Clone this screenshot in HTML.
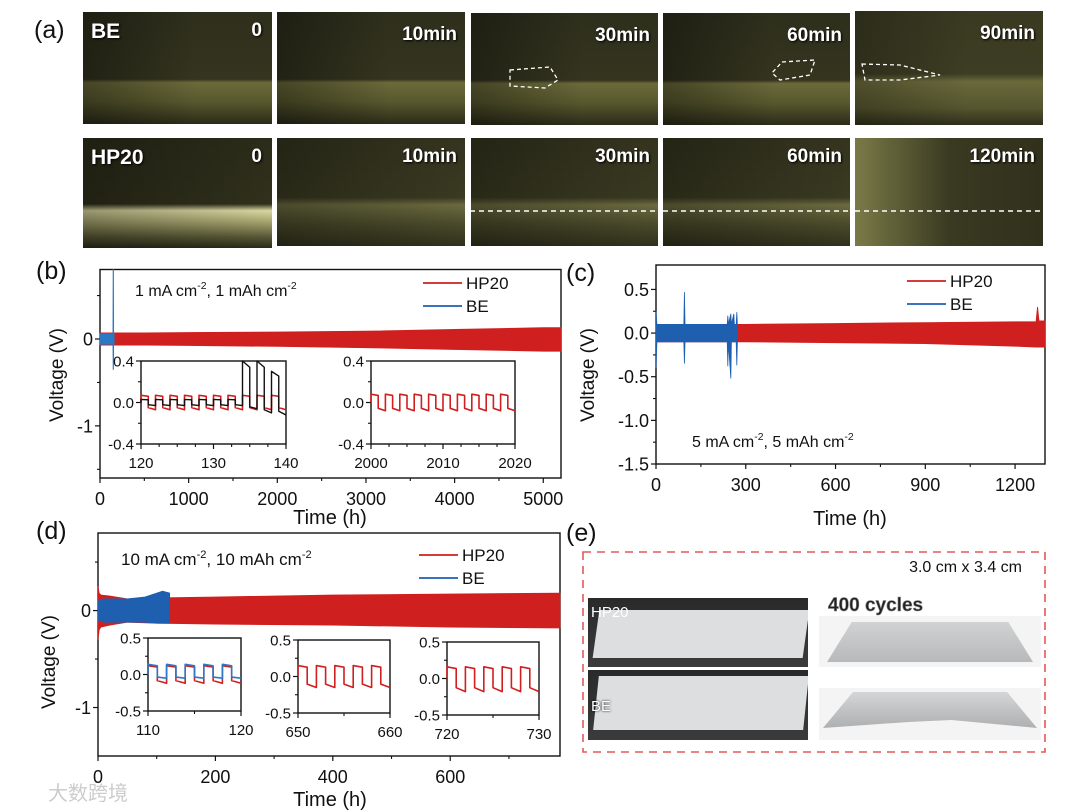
<!DOCTYPE html>
<html><head><meta charset="utf-8"><style>
html,body{margin:0;padding:0;background:#fff;}
#root{position:relative;width:1080px;height:810px;overflow:hidden;font-family:"Liberation Sans",sans-serif;}
.ph{position:absolute;overflow:hidden;}
.ma{background:linear-gradient(90deg,rgba(0,0,0,.35),rgba(0,0,0,0) 60%),linear-gradient(180deg,#2e2f1c 0%,#34341f 60%,#6b6a3a 63%,#58582e 80%,#2b2b19 100%);}
.ma2{background:linear-gradient(90deg,rgba(0,0,0,.25),rgba(0,0,0,0) 60%),linear-gradient(180deg,#3a3a22 0%,#3d3d24 55%,#6a693b 62%,#55552f 85%,#2f2f1b 100%);}
.mb{background:linear-gradient(90deg,rgba(0,0,0,.3),rgba(0,0,0,0)),linear-gradient(180deg,#2c2c1a 0%,#30301c 60%,#d9d7a0 66%,#9c9a66 78%,#585836 90%,#2a2a18 100%);}
.mc{background:linear-gradient(90deg,rgba(0,0,0,.3),rgba(0,0,0,0)),linear-gradient(180deg,#34341f 0%,#3a3a22 55%,#6b6a3f 62%,#4a4a2b 80%,#30301c 100%);}
.ml{position:absolute;color:#fff;font-weight:bold;font-size:19px;text-shadow:1px 1px 2px #000;}
.pe{background:linear-gradient(180deg,#2a2a2a,#3b3b3b);}
.pw{background:#f4f4f4;}
</style></head><body>
<div id="root">
<div class="ph ma" style="left:83px;top:12px;width:189px;height:112px"><span class="ml" style="left:8px;top:8px;font-size:21px">BE</span><span class="ml" style="right:10px;top:8px">0</span></div>
<div class="ph ma" style="left:277px;top:12px;width:188px;height:112px"><span class="ml" style="right:8px;top:12px">10min</span></div>
<div class="ph ma" style="left:471px;top:13px;width:187px;height:112px"><span class="ml" style="right:8px;top:12px">30min</span></div>
<div class="ph ma" style="left:663px;top:13px;width:187px;height:112px"><span class="ml" style="right:8px;top:12px">60min</span></div>
<div class="ph ma2" style="left:855px;top:11px;width:188px;height:114px"><span class="ml" style="right:8px;top:12px">90min</span></div>
<div class="ph mb" style="left:83px;top:138px;width:189px;height:110px"><span class="ml" style="left:8px;top:8px;font-size:21px">HP20</span><span class="ml" style="right:10px;top:8px">0</span></div>
<div class="ph mc" style="left:277px;top:138px;width:188px;height:108px"><span class="ml" style="right:8px;top:8px">10min</span></div>
<div class="ph mc" style="left:471px;top:138px;width:187px;height:108px"><span class="ml" style="right:8px;top:8px">30min</span></div>
<div class="ph mc" style="left:663px;top:138px;width:187px;height:108px"><span class="ml" style="right:8px;top:8px">60min</span></div>
<div class="ph ma2" style="left:855px;top:138px;width:188px;height:108px;background:linear-gradient(90deg,#7a7a48,#3a3a22 50%,#30301c)"><span class="ml" style="right:8px;top:8px">120min</span></div>
<div class="ph pe" style="left:588px;top:598px;width:220px;height:69px"><div style="position:absolute;left:8px;top:12px;width:210px;height:48px;background:#dcdedf;transform:skewX(-8deg)"></div><span style="position:absolute;left:3px;top:6px;color:#fff;font-size:15px">HP20</span></div>
<div class="ph pe" style="left:588px;top:670px;width:220px;height:70px"><div style="position:absolute;left:8px;top:6px;width:210px;height:54px;background:#dcdedf;transform:skewX(-6deg)"></div><span style="position:absolute;left:3px;top:28px;color:#fff;font-size:15px;text-shadow:0 0 2px #000">BE</span></div>
<div class="ph pw" style="left:819px;top:616px;width:222px;height:51px"><div style="position:absolute;left:8px;top:6px;width:206px;height:40px;background:linear-gradient(180deg,#d0d2d3,#b7b9ba);clip-path:polygon(12% 0,88% 0,100% 100%,0 100%)"></div></div>
<div class="ph pw" style="left:819px;top:688px;width:222px;height:52px"><div style="position:absolute;left:4px;top:4px;width:214px;height:40px;background:linear-gradient(180deg,#d4d6d7,#a9abad);clip-path:polygon(14% 0,86% 0,100% 90%,60% 70%,40% 75%,0 90%)"></div></div>
<svg id="svg" width="1080" height="810" style="position:absolute;left:0;top:0"></svg>
</div>
<script>
const bHpT=[0,500,1000,2000,3000,4000,5000,5200];
const bHpHi=[0.07,0.07,0.075,0.08,0.09,0.11,0.13,0.13];
const bHpLo=[-0.07,-0.07,-0.075,-0.085,-0.1,-0.12,-0.14,-0.14];
const bBeT=[0,60,120,146,148,152,154,160];
const bBeHi=[0.06,0.06,0.06,0.06,0.8,0.8,0.06,0.06];
const bBeLo=[-0.06,-0.06,-0.06,-0.06,-0.35,-0.35,-0.06,-0.06];
const b1Starts=[120,122,124,126,128,130,132,134,136,138];
const b1HpHi=[0.07,0.07,0.07,0.07,0.07,0.07,0.07,0.07,0.07,0.07];
const b1HpLo=[-0.07,-0.07,-0.07,-0.07,-0.07,-0.07,-0.07,-0.07,-0.07,-0.07];
const b1BeHi=[0.03,0.03,0.03,0.03,0.03,0.03,0.03,0.4,0.4,0.3];
const b1BeLo=[-0.03,-0.03,-0.03,-0.03,-0.03,-0.03,-0.03,-0.06,-0.1,-0.12];
const b2Starts=[2000,2002,2004,2006,2008,2010,2012,2014,2016,2018];
const b2Hi=[0.08,0.08,0.08,0.08,0.08,0.08,0.08,0.08,0.08,0.08];
const b2Lo=[-0.08,-0.08,-0.08,-0.08,-0.08,-0.08,-0.08,-0.08,-0.08,-0.08];
const cHpT=[0,300,600,900,1200,1270,1275,1280,1300];
const cHpHi=[0.1,0.1,0.11,0.12,0.13,0.13,0.3,0.14,0.14];
const cHpLo=[-0.1,-0.1,-0.11,-0.12,-0.15,-0.16,-0.16,-0.16,-0.16];
const cBeT=[0,3,20,93,95,97,150,238,240,242,250,252,260,262,268,270,272];
const cBeHi=[0.25,0.1,0.1,0.1,0.47,0.1,0.1,0.1,0.2,0.1,0.22,0.1,0.22,0.1,0.1,0.24,0.1];
const cBeLo=[-0.4,-0.1,-0.1,-0.1,-0.35,-0.1,-0.1,-0.1,-0.38,-0.1,-0.52,-0.1,-0.1,-0.1,-0.1,-0.37,-0.1];
const dHpT=[0,2,5,20,50,100,200,400,600,787];
const dHpHi=[0.25,0.18,0.16,0.15,0.12,0.13,0.14,0.16,0.17,0.18];
const dHpLo=[-0.3,-0.2,-0.17,-0.15,-0.12,-0.13,-0.14,-0.15,-0.17,-0.18];
const dBeT=[0,10,50,80,100,110,122];
const dBeHi=[0.1,0.12,0.12,0.14,0.18,0.2,0.18];
const dBeLo=[-0.1,-0.12,-0.12,-0.12,-0.13,-0.13,-0.13];
const d1Starts=[110,112,114,116,118];
const d1HpHi=[0.12,0.12,0.12,0.12,0.12];
const d1HpLo=[-0.12,-0.12,-0.12,-0.12,-0.12];
const d1BeHi=[0.14,0.14,0.14,0.14,0.14];
const d1BeLo=[-0.05,-0.05,-0.05,-0.05,-0.05];
const d2Starts=[650,652,654,656,658];
const d2Hi=[0.15,0.15,0.15,0.15,0.15];
const d2Lo=[-0.15,-0.15,-0.15,-0.15,-0.15];
const d3Starts=[720,722,724,726,728];
const d3Hi=[0.16,0.16,0.16,0.16,0.16];
const d3Lo=[-0.18,-0.18,-0.18,-0.18,-0.18];
const RED='#d01f1f', BLUE='#1f5fb0', BLUE2='#2b78c5';
const svg=document.getElementById('svg');
const NS='http://www.w3.org/2000/svg';
function mk(tag,at,p){const e=document.createElementNS(NS,tag);for(const k in at)e.setAttribute(k,at[k]);(p||svg).appendChild(e);return e;}
function lin(d0,d1,r0,r1){return v=>r0+(v-d0)*(r1-r0)/(d1-d0);}
function txt(x,y,s,size,anchor,name,extra){const t=mk('text',Object.assign({x:x,y:y,'font-size':size,'text-anchor':anchor||'middle','font-family':'Liberation Sans, sans-serif',fill:'#111'},extra||{}));t.textContent=s;


return t;}
function axes(sx,sy,x0,x1,y0,y1,xt,xminor,yt,ylab,yminor,fs,name){
 const r=mk('rect',{x:sx(x0),y:sy(y1),width:sx(x1)-sx(x0),height:sy(y0)-sy(y1),fill:'#fff',stroke:'#111','stroke-width':1.4});
 
 
 const by=sy(y0), lx=sx(x0);
 xt.forEach(v=>{const l=mk('line',{x1:sx(v),x2:sx(v),y1:by,y2:by+5,stroke:'#111','stroke-width':1.2});
  
  
  txt(sx(v),by+fs+9,String(v),fs,'middle',name+'-x-tick-label');});
 xminor.forEach(v=>{const l=mk('line',{x1:sx(v),x2:sx(v),y1:by,y2:by+3,stroke:'#111','stroke-width':1.1});
  
  });
 yt.forEach((v,i)=>{const l=mk('line',{x1:lx-5,x2:lx,y1:sy(v),y2:sy(v),stroke:'#111','stroke-width':1.2});
  
  
  txt(lx-7,sy(v)+fs*0.36,ylab[i],fs,'end',name+'-y-tick-label');});
 yminor.forEach(v=>{const l=mk('line',{x1:lx-3,x2:lx,y1:sy(v),y2:sy(v),stroke:'#111','stroke-width':1.1});
  
  });
}
function band(sx,sy,T,H,L,color,name){
 let d='M'+T.map((t,i)=>sx(t)+','+sy(H[i])).join('L');
 for(let i=T.length-1;i>=0;i--)d+='L'+sx(T[i])+','+sy(L[i]);
 const p=mk('path',{d:d+'Z',fill:color,stroke:color,'stroke-width':0.8});
 
 
}
function square(sx,sy,S,H,L,period,color,name,w){
 let d='';
 S.forEach((t,i)=>{const m=t+period/2,e=t+period;
  d+=(i?'L':'M')+sx(t)+','+sy(0)+'L'+sx(t)+','+sy(H[i])+'L'+sx(m)+','+sy(H[i]*0.85)+'L'+sx(m)+','+sy(L[i]*0.7)+'L'+sx(e)+','+sy(L[i]);});
 const p=mk('path',{d:d,fill:'none',stroke:color,'stroke-width':w||1.6,'stroke-linejoin':'round'});
 
 
}
function legend(x,y,name){
 [[RED,'HP20',0],[BLUE,'BE',23]].forEach(([c,s,o])=>{const l=mk('line',{x1:x,x2:x+39,y1:y+o,y2:y+o,stroke:c,'stroke-width':1.8});
  
  
  txt(x+43,y+o+6,s,17,'start',name+'-'+s.toLowerCase()+'-label');});
}
function cond(x,y,a,b,size,name){const t=txt(x,y,'',size,'start',name);
 t.innerHTML=a+' mA cm<tspan dy="-7" font-size="'+(size*0.65)+'">-2</tspan><tspan dy="7">, '+b+' mAh cm</tspan><tspan dy="-7" font-size="'+(size*0.65)+'">-2</tspan>';}
function ylabel(x,y,name){txt(x,y,'Voltage (V)',19,'middle',name,{transform:'rotate(-90 '+x+' '+y+')'});}
function plabel(x,y,s,name){txt(x,y,s,25,'start',name);}
plabel(34,38,'(a)','panel-a-label');
plabel(36,279,'(b)','panel-b-label');
plabel(566,281,'(c)','panel-c-label');
plabel(36,539,'(d)','panel-d-label');
plabel(566,541,'(e)','panel-e-label');
[[471,470,658],[663,663,850],[855,855,1043]].forEach(([a,x0,x1])=>{const l=mk('line',{x1:x0,x2:x1,y1:211,y2:211,stroke:'#fff','stroke-width':1.6,'stroke-dasharray':'5,4'});
 
 });
[[505,68,'M510,70 L550,67 L558,80 L545,88 L510,86Z'],[770,60,'M782,62 L815,60 L810,75 L780,80 L772,73Z'],[858,60,'M862,64 L900,65 L940,75 L900,80 L865,80Z']].forEach(([a,b,d])=>{const p=mk('path',{d:d,fill:'none',stroke:'#fff','stroke-width':1.3,'stroke-dasharray':'4,3'});
 
 });
{const sx=lin(0,5200,100,561), sy=lin(0.8,-1.6,269.5,478);
 axes(sx,sy,0,5200,-1.6,0.8,[0,1000,2000,3000,4000,5000],[500,1500,2500,3500,4500],[0,-1],['0','-1'],[0.5,-0.5,-1.5],18,'b-main');
 band(sx,sy,bHpT,bHpHi,bHpLo,RED,'b-hp20-band');
 band(sx,sy,bBeT,bBeHi,bBeLo,BLUE2,'b-be-band');
 legend(423,283,'b-legend');
 cond(135,296,'1','1',16,'b-condition');
 txt(330,524,'Time (h)',20,'middle','b-x-axis-title');
 ylabel(63,375,'b-y-axis-title');
 const ix=lin(120,140,141,286), iy=lin(0.4,-0.4,361,444);
 axes(ix,iy,120,140,-0.4,0.4,[120,130,140],[122.5,125,127.5,132.5,135,137.5],[0.4,0,-0.4],['0.4','0.0','-0.4'],[0.2,-0.2],15,'b-inset1');
 square(ix,iy,b1Starts,b1HpHi,b1HpLo,2,RED,'b-inset1-hp20-line');
 square(ix,iy,b1Starts,b1BeHi,b1BeLo,2,'#111','b-inset1-be-line',1.4);
 const jx=lin(2000,2020,371,515), jy=lin(0.4,-0.4,361,444);
 axes(jx,jy,2000,2020,-0.4,0.4,[2000,2010,2020],[2002.5,2005,2007.5,2012.5,2015,2017.5],[0.4,0,-0.4],['0.4','0.0','-0.4'],[0.2,-0.2],15,'b-inset2');
 square(jx,jy,b2Starts,b2Hi,b2Lo,2,RED,'b-inset2-hp20-line');}
{const sx=lin(0,1300,656,1045), sy=lin(0.78,-1.5,265,464);
 axes(sx,sy,0,1300,-1.5,0.78,[0,300,600,900,1200],[150,450,750,1050],[0.5,0,-0.5,-1,-1.5],['0.5','0.0','-0.5','-1.0','-1.5'],[0.25,-0.25,-0.75,-1.25],18,'c-main');
 band(sx,sy,cHpT,cHpHi,cHpLo,RED,'c-hp20-band');
 band(sx,sy,cBeT,cBeHi,cBeLo,BLUE,'c-be-band');
 legend(907,281,'c-legend');
 cond(692,447,'5','5',16,'c-condition');
 txt(850,525,'Time (h)',20,'middle','c-x-axis-title');
 ylabel(594,375,'c-y-axis-title');}
{const sx=lin(0,787,98,560), sy=lin(0.8,-1.5,533,756);
 axes(sx,sy,0,787,-1.5,0.8,[0,200,400,600],[100,300,500,700],[0,-1],['0','-1'],[0.5,-0.5],18,'d-main');
 band(sx,sy,dHpT,dHpHi,dHpLo,RED,'d-hp20-band');
 band(sx,sy,dBeT,dBeHi,dBeLo,BLUE,'d-be-band');
 legend(419,555,'d-legend');
 cond(121,565,'10','10',17,'d-condition');
 txt(330,806,'Time (h)',20,'middle','d-x-axis-title');
 ylabel(55,662,'d-y-axis-title');
 const a=lin(110,120,148,241), ay=lin(0.5,-0.5,638,711);
 axes(a,ay,110,120,-0.5,0.5,[110,120],[115],[0.5,0,-0.5],['0.5','0.0','-0.5'],[0.25,-0.25],15,'d-inset1');
 square(a,ay,d1Starts,d1HpHi,d1HpLo,2,RED,'d-inset1-hp20-line');
 square(a,ay,d1Starts,d1BeHi,d1BeLo,2,BLUE2,'d-inset1-be-line');
 const b=lin(650,660,298,390), by=lin(0.5,-0.5,640,713);
 axes(b,by,650,660,-0.5,0.5,[650,660],[655],[0.5,0,-0.5],['0.5','0.0','-0.5'],[0.25,-0.25],15,'d-inset2');
 square(b,by,d2Starts,d2Hi,d2Lo,2,RED,'d-inset2-hp20-line');
 const c=lin(720,730,447,539), cy=lin(0.5,-0.5,642,715);
 axes(c,cy,720,730,-0.5,0.5,[720,730],[725],[0.5,0,-0.5],['0.5','0.0','-0.5'],[0.25,-0.25],15,'d-inset3');
 square(c,cy,d3Starts,d3Hi,d3Lo,2,RED,'d-inset3-hp20-line');}
{const r=mk('rect',{x:583,y:552,width:462,height:200,fill:'none',stroke:'#e05a5a','stroke-width':1.6,'stroke-dasharray':'8,6'});
 
 
 txt(1022,572,'3.0 cm x 3.4 cm',16,'end','cell-size-label');
 txt(828,611,'400 cycles',19,'start','cycles-label',{fill:'#222',stroke:'#888','stroke-width':0.6,'font-weight':'bold'});
 txt(48,800,'大数跨境',20,'start','watermark',{fill:'#ccc','font-family':'Liberation Sans, Noto Sans CJK SC, sans-serif'});}
</script>
</body></html>
